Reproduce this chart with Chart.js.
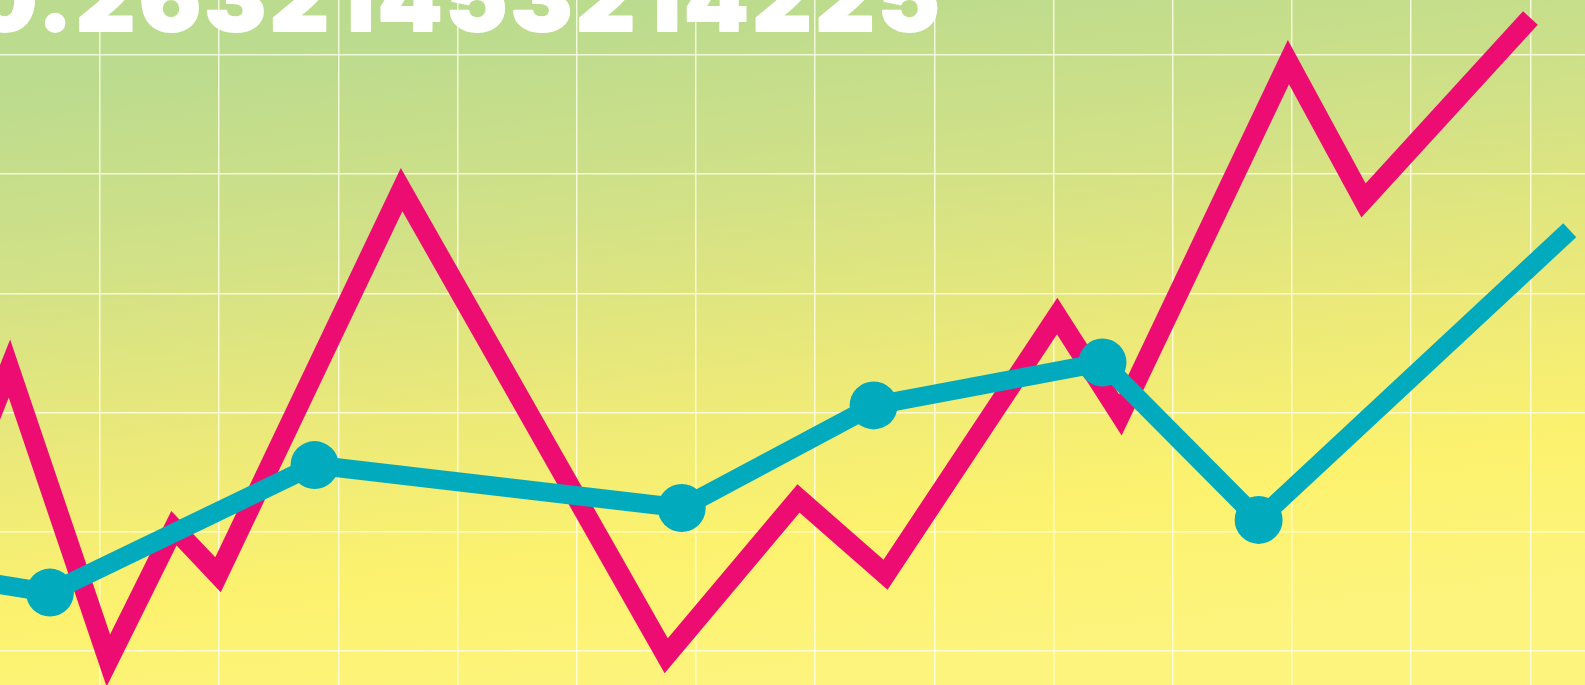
<!DOCTYPE html>
<html>
<head>
<meta charset="utf-8">
<script src="https://cdn.jsdelivr.net/npm/chart.js@4"></script>
<style>
  html, body { margin: 0; padding: 0; background: #fdf47a; overflow: hidden; }
  #wrap { position: relative; width: 1585px; height: 685px; }
</style>
</head>
<body>
<div id="wrap"><canvas id="myChart"></canvas></div>
<script>
// ticker text across the top
var tickerText = "0.26321453214225";

// magenta series (grid units)
var pinkX = [-1.17, -0.76, 0.07, 0.62, 0.99, 2.53, 4.75, 5.86, 6.59, 8.03, 8.56, 9.97, 10.60, 12.00];
var pinkY = [1.33, 2.37, -0.08, 1.03, 0.64, 3.87, -0.04, 1.28, 0.64, 2.81, 1.98, 4.94, 3.78, 5.31];

// teal series (grid units), last point is a plain line end
var tealX = [-1.68, -0.42, 1.80, 4.88, 6.49, 8.41, 9.72, 12.33];
var tealY = [0.69, 0.49, 1.56, 1.20, 2.06, 2.42, 1.10, 3.53];
var tealDots = [24, 24, 24, 24, 24, 24, 24, 0];

function toPoints(xs, ys) {
  return xs.map(function(x, i) { return { x: x, y: ys[i] }; });
}

// background gradient + ticker text
var backdrop = {
  id: 'backdrop',
  beforeDraw: function(chart) {
    var c = chart.ctx;
    var g = c.createLinearGradient(700, 0, 780, chart.height);
    g.addColorStop(0, '#bbdb8e');
    g.addColorStop(0.28, '#d1e187');
    g.addColorStop(0.55, '#ebe979');
    g.addColorStop(0.78, '#fcf26e');
    g.addColorStop(1, '#fdf47e');
    c.save();
    c.fillStyle = g;
    c.fillRect(0, 0, chart.width, chart.height);
    c.restore();
  },
  beforeDatasetsDraw: function(chart) {
    var c = chart.ctx;
    c.save();
    c.font = "900 92px Inter, Lato, Roboto, sans-serif";
    c.letterSpacing = '0px';
    var w = c.measureText(tickerText).width;
    var gap = (971 - w) / 16;
    c.letterSpacing = gap.toFixed(2) + 'px';
    c.fillStyle = '#ffffff';
    c.strokeStyle = '#ffffff';
    c.lineWidth = 2;
    c.lineJoin = 'round';
    c.textAlign = 'left';
    c.textBaseline = 'alphabetic';
    c.fillText(tickerText, -28, 30.5);
    c.strokeText(tickerText, -28, 30.5);
    c.restore();
  }
};

var gridOpts = {
  color: 'rgba(255, 255, 238, 0.8)',
  lineWidth: 1.5,
  drawTicks: false
};

var ctx = document.getElementById('myChart');
var chart = new Chart(ctx, {
  type: 'line',
  data: {
    datasets: [
      {
        label: 'teal',
        data: toPoints(tealX, tealY),
        borderColor: '#01abbd',
        backgroundColor: '#01abbd',
        borderWidth: 19,
        pointRadius: tealDots,
        pointBorderWidth: 0,
        pointHoverRadius: tealDots,
        fill: false,
        tension: 0,
        order: 1
      },
      {
        label: 'pink',
        data: toPoints(pinkX, pinkY),
        borderColor: '#ed0d72',
        borderWidth: 20,
        pointRadius: 0,
        fill: false,
        tension: 0,
        order: 2
      }
    ]
  },
  options: {
    responsive: true,
    maintainAspectRatio: false,
    animation: false,
    layout: { padding: 0, autoPadding: false },
    plugins: {
      legend: { display: false },
      title: { display: false },
      tooltip: { enabled: false }
    },
    scales: {
      x: {
        type: 'linear',
        min: -0.839,
        max: 12.458,
        border: { display: false },
        grid: gridOpts,
        ticks: { display: false, stepSize: 1, includeBounds: false }
      },
      y: {
        type: 'linear',
        min: -0.285,
        max: 5.461,
        border: { display: false },
        grid: gridOpts,
        ticks: { display: false, stepSize: 1, includeBounds: false }
      }
    }
  },
  plugins: [backdrop]
});
</script>
</body>
</html>
